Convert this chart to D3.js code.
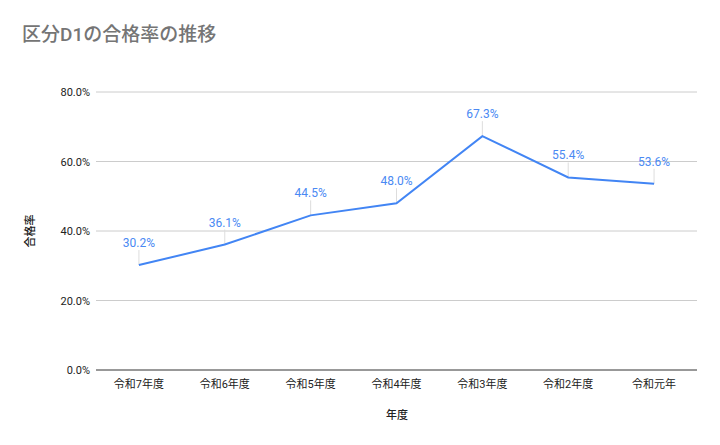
<!DOCTYPE html>
<html>
<head>
<meta charset="utf-8">
<script src="https://cdn.jsdelivr.net/npm/d3@7"></script>
<style>
  body { margin: 0; background: #fff; }
  text { font-family: Roboto, "Noto Sans CJK JP", sans-serif; }
</style>
</head>
<body>
<div id="chart"></div>
<script>
// 区分D1 pass rate by year
var years = ["令和7年度", "令和6年度", "令和5年度", "令和4年度", "令和3年度", "令和2年度", "令和元年"];
var passRates = [30.2, 36.1, 44.5, 48.0, 67.3, 55.4, 53.6];
var yTicks = [0, 20, 40, 60, 80];

var width = 720, height = 445;
var margin = { top: 92, right: 23, bottom: 75, left: 96 };

var svg = d3.select("#chart")
    .append("svg")
    .attr("width", width)
    .attr("height", height);

var x = d3.scaleBand()
    .domain(years)
    .range([margin.left, width - margin.right]);

var y = d3.scaleLinear()
    .domain([0, 80])
    .range([height - margin.bottom, margin.top]);

// Title
svg.append("text")
    .attr("x", 22)
    .attr("y", 41)
    .text("区分D1の合格率の推移")
    .attr("font-size", "19px")
    .attr("font-weight", 500)
    .attr("fill", "#757575");

// Gridlines
yTicks.forEach(function (t) {
    svg.append("line")
        .attr("x1", margin.left)
        .attr("x2", width - margin.right)
        .attr("y1", y(t))
        .attr("y2", y(t))
        .attr("stroke", t === 0 ? "#333" : "#ccc")
        .attr("stroke-width", 1);
    svg.append("text")
        .attr("x", margin.left - 6)
        .attr("y", y(t) + 4)
        .attr("text-anchor", "end")
        .attr("font-size", "11px")
        .attr("fill", "#222")
        .text(t.toFixed(1) + "%");
});

// X labels
years.forEach(function (d) {
    svg.append("text")
        .attr("x", x(d) + x.bandwidth() / 2)
        .attr("y", y(0) + 18)
        .attr("text-anchor", "middle")
        .attr("font-size", "11px")
        .attr("fill", "#222")
        .text(d);
});

// Axis titles
svg.append("text")
    .attr("x", width / 2 + 37)
    .attr("y", 419)
    .attr("text-anchor", "middle")
    .attr("font-size", "11px")
    .attr("font-weight", 500)
    .attr("fill", "#222")
    .text("年度");

svg.append("text")
    .attr("transform", "translate(34," + ((margin.top + y(0)) / 2) + ") rotate(-90)")
    .attr("text-anchor", "middle")
    .attr("font-size", "11px")
    .attr("font-weight", 500)
    .attr("fill", "#222")
    .text("合格率");

var data = years.map(function (d, i) { return { year: d, value: passRates[i] }; });

// Leader lines for labels
data.forEach(function (d) {
    var cx = x(d.year) + x.bandwidth() / 2;
    svg.append("line")
        .attr("x1", cx)
        .attr("x2", cx)
        .attr("y1", y(d.value))
        .attr("y2", y(d.value) - 15)
        .attr("stroke", "#ddd")
        .attr("stroke-width", 1);
});

// Line
var line = d3.line()
    .x(function (d) { return x(d.year) + x.bandwidth() / 2; })
    .y(function (d) { return y(d.value); });

svg.append("path")
    .datum(data)
    .attr("d", line)
    .attr("fill", "none")
    .attr("stroke", "#4285f4")
    .attr("stroke-width", 2);

// Data labels
data.forEach(function (d) {
    svg.append("text")
        .attr("x", x(d.year) + x.bandwidth() / 2)
        .attr("y", y(d.value) - 18)
        .attr("text-anchor", "middle")
        .attr("font-size", "12px")
        .attr("fill", "#4a89f3")
        .text(d.value.toFixed(1) + "%");
});
</script>
</body>
</html>
